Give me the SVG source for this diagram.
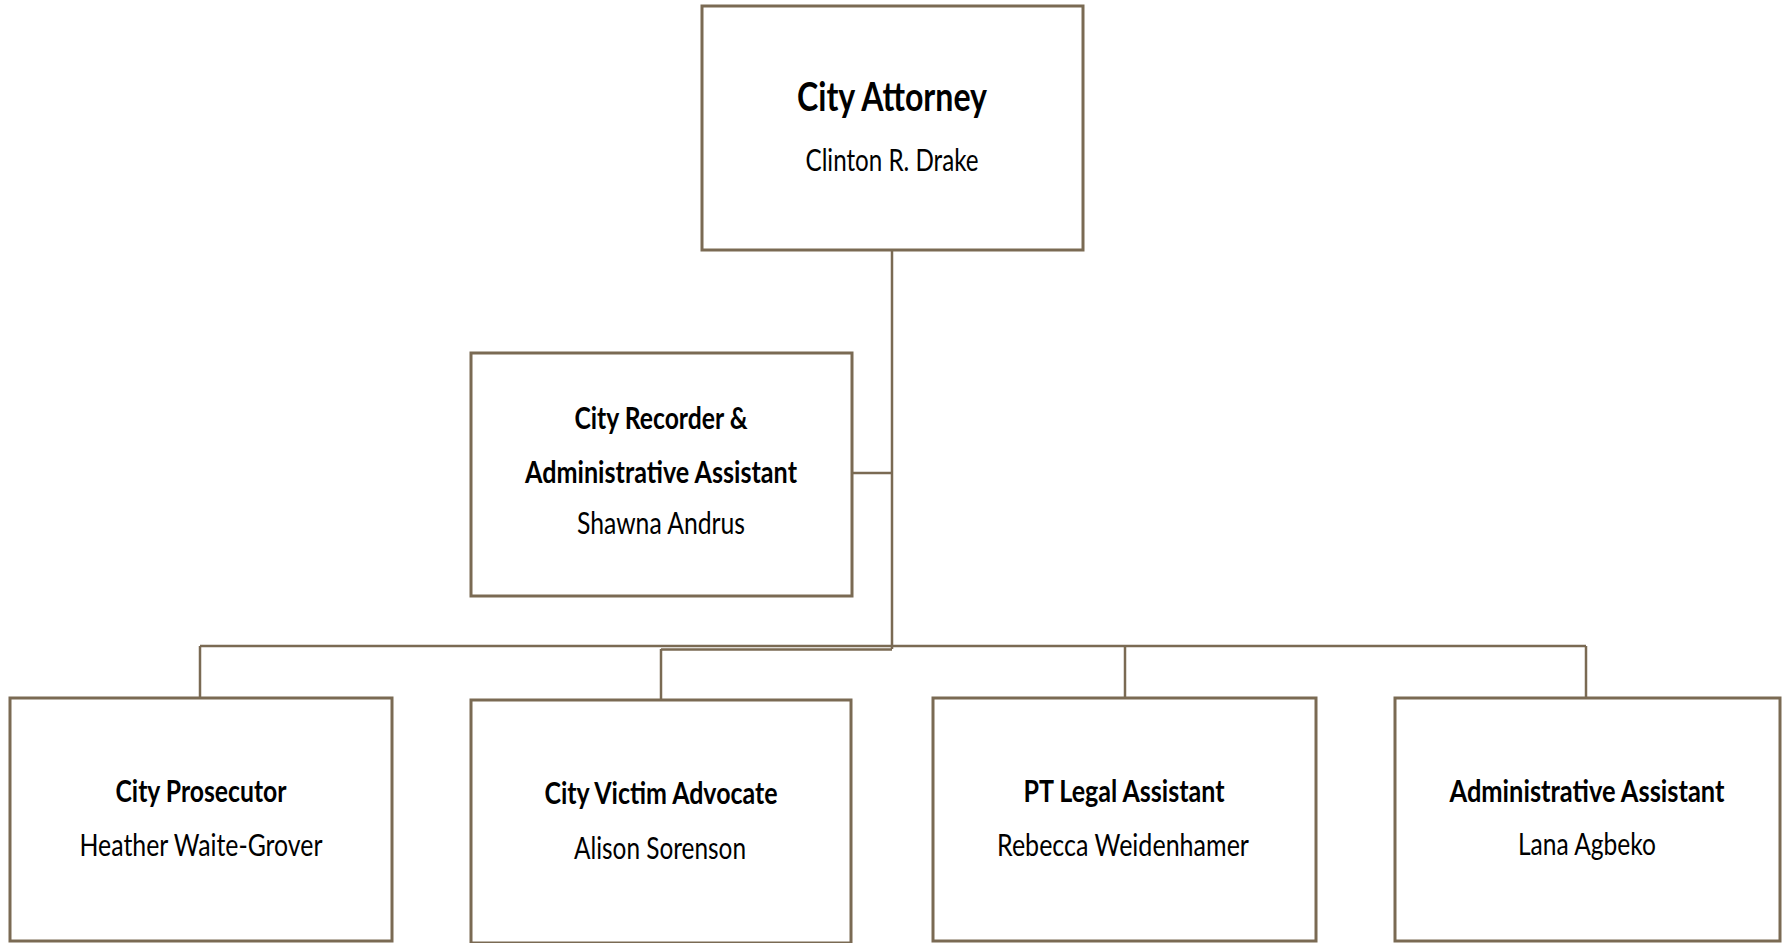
<svg xmlns="http://www.w3.org/2000/svg" width="1782" height="943" viewBox="0 0 1782 943">
<style>
.box{fill:#fff;stroke:#7a6a53;stroke-width:3}
.ln{fill:none;stroke:#7a6a53;stroke-width:2.5}
.t{font-family:Lato,"Open Sans","Liberation Sans",sans-serif;font-weight:700;font-size:30px;fill:#000;text-anchor:middle}
.n{font-family:Lato,"Open Sans","Liberation Sans",sans-serif;font-weight:400;font-size:30px;fill:#000;text-anchor:middle}
</style>
<rect width="1782" height="943" fill="#fff"/>
<g id="connectors">
<path class="ln" d="M892 250 V649" stroke-width="3"/>
<path class="ln" d="M852 473 H892"/>
<path class="ln" d="M200 646 H1586"/>
<path class="ln" d="M661 649.5 H892" stroke-width="3"/>
<path class="ln" d="M200 646 V698"/>
<path class="ln" d="M661 649 V700"/>
<path class="ln" d="M1125 646 V698"/>
<path class="ln" d="M1586 646 V698"/>
</g>
<g id="city-attorney">
<rect class="box" x="702" y="6" width="381" height="244"/>
<text class="t" x="892" y="111" style="font-size:40px" textLength="190" lengthAdjust="spacingAndGlyphs">City Attorney</text>
<text class="n" x="892" y="171" textLength="173" lengthAdjust="spacingAndGlyphs">Clinton R. Drake</text>
</g>
<g id="city-recorder">
<rect class="box" x="471" y="353" width="381" height="243"/>
<text class="t" x="661" y="429" textLength="173" lengthAdjust="spacingAndGlyphs">City Recorder &amp;</text>
<text class="t" x="661" y="483" textLength="272" lengthAdjust="spacingAndGlyphs">Administrative Assistant</text>
<text class="n" x="661" y="534" textLength="168" lengthAdjust="spacingAndGlyphs">Shawna Andrus</text>
</g>
<g id="city-prosecutor">
<rect class="box" x="10" y="698" width="382" height="243"/>
<text class="t" x="201" y="802" textLength="171" lengthAdjust="spacingAndGlyphs">City Prosecutor</text>
<text class="n" x="201" y="856" textLength="243" lengthAdjust="spacingAndGlyphs">Heather Waite-Grover</text>
</g>
<g id="city-victim-advocate">
<rect class="box" x="471" y="700" width="380" height="243"/>
<text class="t" x="661" y="804" textLength="233" lengthAdjust="spacingAndGlyphs">City Victim Advocate</text>
<text class="n" x="660" y="859" textLength="172" lengthAdjust="spacingAndGlyphs">Alison Sorenson</text>
</g>
<g id="pt-legal-assistant">
<rect class="box" x="933" y="698" width="383" height="243"/>
<text class="t" x="1124" y="802" textLength="201" lengthAdjust="spacingAndGlyphs">PT Legal Assistant</text>
<text class="n" x="1123" y="856" textLength="252" lengthAdjust="spacingAndGlyphs">Rebecca Weidenhamer</text>
</g>
<g id="administrative-assistant">
<rect class="box" x="1395" y="698" width="385" height="243"/>
<text class="t" x="1587" y="802" textLength="275" lengthAdjust="spacingAndGlyphs">Administrative Assistant</text>
<text class="n" x="1587" y="855" textLength="138" lengthAdjust="spacingAndGlyphs">Lana Agbeko</text>
</g>
</svg>
